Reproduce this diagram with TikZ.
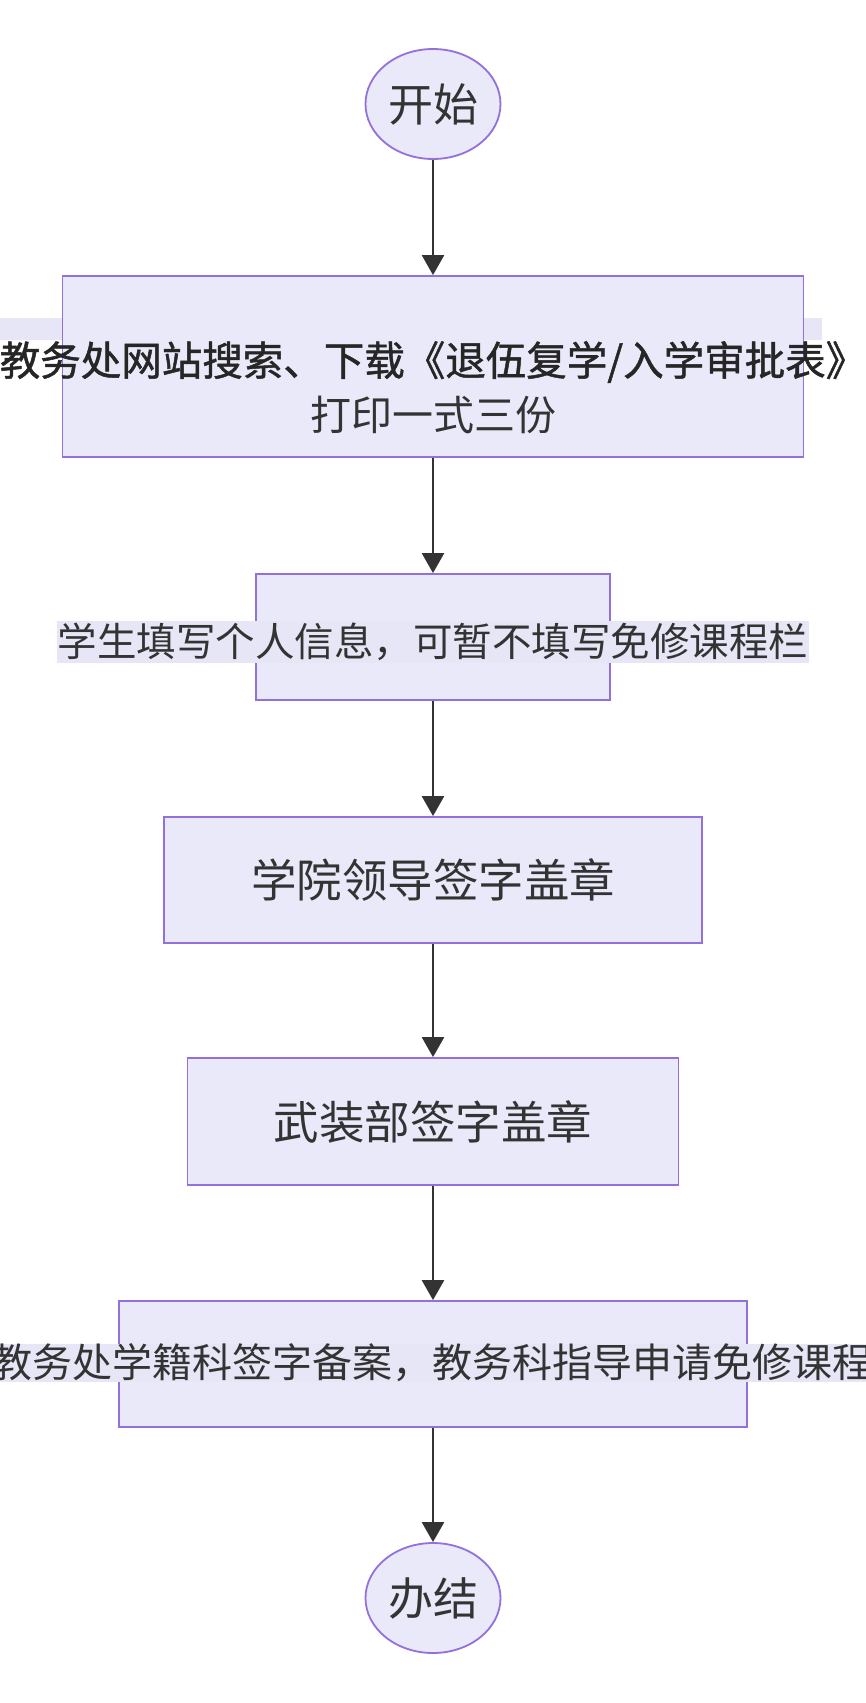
\documentclass[tikz,border=0pt]{standalone}
\usepackage{fontspec}
\newfontfamily\cjk{Noto Sans CJK SC}
\newfontfamily\cjkbold[FakeBold=1.2]{Noto Sans CJK SC}
\usetikzlibrary{arrows.meta,shapes.geometric}
\definecolor{nodefill}{HTML}{E9E9FA}
\definecolor{nodeline}{HTML}{9370DB}
\definecolor{txt}{HTML}{333333}
\definecolor{lblbg}{HTML}{E6E6F7}
\tikzset{
 procbox/.style={draw=nodeline, fill=nodefill, line width=1.8pt, inner sep=0pt, text=txt},
 term/.style={ellipse, draw=nodeline, fill=nodefill, line width=1.8pt, inner sep=0pt,
   minimum width=135pt, minimum height=110pt, text=txt, font=\cjk\fontsize{45}{54}\selectfont},
 lbl/.style={text=txt, inner sep=0pt},
 flow/.style={draw=txt, line width=2.4pt, -{Triangle[length=20pt,width=22pt]}}
}
\begin{document}
\begin{tikzpicture}[x=1pt,y=-1pt]
\useasboundingbox (0,0) rectangle (865,1703);
\fill[white] (0,0) rectangle (865,1703);

\node[term] (start) at (433,104) {开始};

\fill[lblbg] (0,318) rectangle (822,340);
\node[procbox, minimum width=741pt, minimum height=181pt] (b1) at (433,366.5) {};
\node[lbl, text=black!85, font=\cjkbold\fontsize{40.5}{48}\selectfont] (b1t1) at (433,362) {教务处网站搜索、下载《退伍复学/入学审批表》};
\node[lbl, font=\cjk\fontsize{41}{48}\selectfont] (b1t2) at (433,415) {打印一式三份};

\node[procbox, minimum width=354pt, minimum height=126pt] (b2) at (433,637) {};
\node[lbl, fill=lblbg, minimum height=42pt, inner xsep=1pt, font=\cjk\fontsize{39.5}{46}\selectfont] (b2t) at (433,642) {学生填写个人信息，可暂不填写免修课程栏};

\node[procbox, minimum width=538pt, minimum height=126pt, font=\cjk\fontsize{45.5}{54}\selectfont] (b3) at (433,880) {学院领导签字盖章};

\node[procbox, minimum width=491pt, minimum height=127pt, font=\cjk\fontsize{45.5}{54}\selectfont] (b4) at (433,1121.5) {武装部签字盖章};

\node[procbox, minimum width=628pt, minimum height=126pt] (b5) at (433,1364) {};
\node[lbl, fill=lblbg, minimum height=36pt, inner xsep=1pt, font=\cjk\fontsize{40}{46}\selectfont] (b5t) at (433,1363) {教务处学籍科签字备案，教务科指导申请免修课程};

\node[term] (end) at (433,1598) {办结};

\draw[flow] (start.south) -- (b1.north);
\draw[flow] (b1.south) -- (b2.north);
\draw[flow] (b2.south) -- (b3.north);
\draw[flow] (b3.south) -- (b4.north);
\draw[flow] (b4.south) -- (b5.north);
\draw[flow] (b5.south) -- (end.north);
\end{tikzpicture}
\end{document}
